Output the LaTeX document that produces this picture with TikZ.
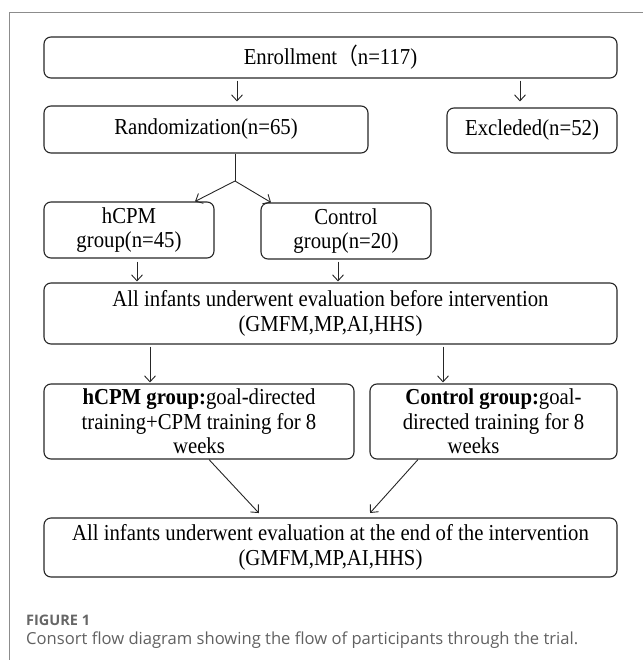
\documentclass[tikz,border=0pt]{standalone}
\usepackage{fontspec}
\setmainfont{Liberation Serif}[FakeStretch=0.91]
\newfontfamily\capfont{Open Sans}
\newfontfamily\cjk{Noto Sans CJK SC}[FakeStretch=0.91]
\usetikzlibrary{arrows.meta,calc}
\begin{document}
\begin{tikzpicture}[x=1pt,y=-1pt,
  box/.style={draw=black!85,line width=1.1pt,rounded corners=7pt,align=center,inner sep=0pt,font=\fontsize{22.8}{24.5}\selectfont},
  arr/.style={draw=black!85,line width=0.9pt,-{Straight Barb[length=6pt,width=11pt]}},
  ln/.style={draw=black!85,line width=0.9pt},
  frameline/.style={draw=black!45,line width=1pt},
  figlab/.style={anchor=base west,inner sep=0pt,text=black!60,font=\capfont\bfseries\fontsize{14.5}{16}\selectfont},
  captxt/.style={anchor=base west,inner sep=0pt,text=black!62,font=\capfont\fontsize{16.6}{19}\selectfont}]
\useasboundingbox (0,0) rectangle (643,660);
\coordinate (fa) at (9,660);
\coordinate (fb) at (9,12.5);
\coordinate (fc) at (643,12.5);
\draw[frameline] (fa) -- (fb) -- (fc);

\node[box,minimum width=573pt,minimum height=41pt] (enroll) at (330.5,57.5) {Enrollment{\cjk （}n=117)};
\node[box,minimum width=324pt,minimum height=47pt] (rand) at (206,129.5) {Randomization(n=65)};
\node[box,minimum width=170pt,minimum height=45pt] (excl) at (532,130.5) {Excleded(n=52)};
\node[box,minimum width=170pt,minimum height=56pt] (hcpm) at (129,230) {hCPM\\group(n=45)};
\node[box,minimum width=170pt,minimum height=56pt] (ctrl) at (346,231) {Control\\group(n=20)};
\node[box,minimum width=573pt,minimum height=61pt] (eval1) at (330.5,313.5) {All infants underwent evaluation before intervention\\(GMFM,MP,AI,HHS)};
\node[box,minimum width=310pt,minimum height=75pt] (hg) at (199,421.5) {\textbf{hCPM group:}goal-directed\\training+CPM training for 8\\weeks};
\node[box,minimum width=247pt,minimum height=75pt] (cg) at (493.5,421.5) {\textbf{Control group:}goal-\\directed training for 8\\weeks\hspace*{40pt}};
\node[box,minimum width=573pt,minimum height=59pt] (final) at (330.5,547.5) {All infants underwent evaluation at the end of the intervention\\(GMFM,MP,AI,HHS)};

\node[figlab] (fig) at (26,625) {FIGURE 1};
\node[captxt] (cap) at (26,644) {Consort flow diagram showing the flow of participants through the trial.};

\coordinate (xa) at (237,0);
\coordinate (xb) at (520,0);
\coordinate (j) at (235,181);
\coordinate (t1) at (195,0);
\coordinate (t2) at (271,0);
\coordinate (xc) at (137,0);
\coordinate (xd) at (338,0);
\coordinate (xe) at (150,0);
\coordinate (xf) at (443,0);
\coordinate (s1) at (209,0);
\coordinate (s2) at (263,0);
\coordinate (s3) at (418,0);
\coordinate (s4) at (366,0);

\draw[arr,shorten <=2pt,shorten >=4pt] (enroll.south -| xa) -- (rand.north -| xa);
\draw[arr,shorten <=2pt,shorten >=6pt] (enroll.south -| xb) -- (excl.north -| xb);
\draw[ln] (rand.south -| j) -- (j);
\draw[arr] (j) -- (hcpm.north -| t1);
\draw[arr] (j) -- (ctrl.north -| t2);
\draw[arr,shorten <=3pt,shorten >=1pt] (hcpm.south -| xc) -- (eval1.north -| xc);
\draw[arr,shorten <=2pt,shorten >=1pt] (ctrl.south -| xd) -- (eval1.north -| xd);
\draw[arr,shorten <=2pt,shorten >=1pt] (eval1.south -| xe) -- (hg.north -| xe);
\draw[arr,shorten <=2pt,shorten >=1pt] (eval1.south -| xf) -- (cg.north -| xf);
\draw[arr,shorten >=6pt] (hg.south -| s1) -- (final.north -| s2);
\draw[arr,shorten >=6pt] (cg.south -| s3) -- (final.north -| s4);
\end{tikzpicture}
\end{document}
